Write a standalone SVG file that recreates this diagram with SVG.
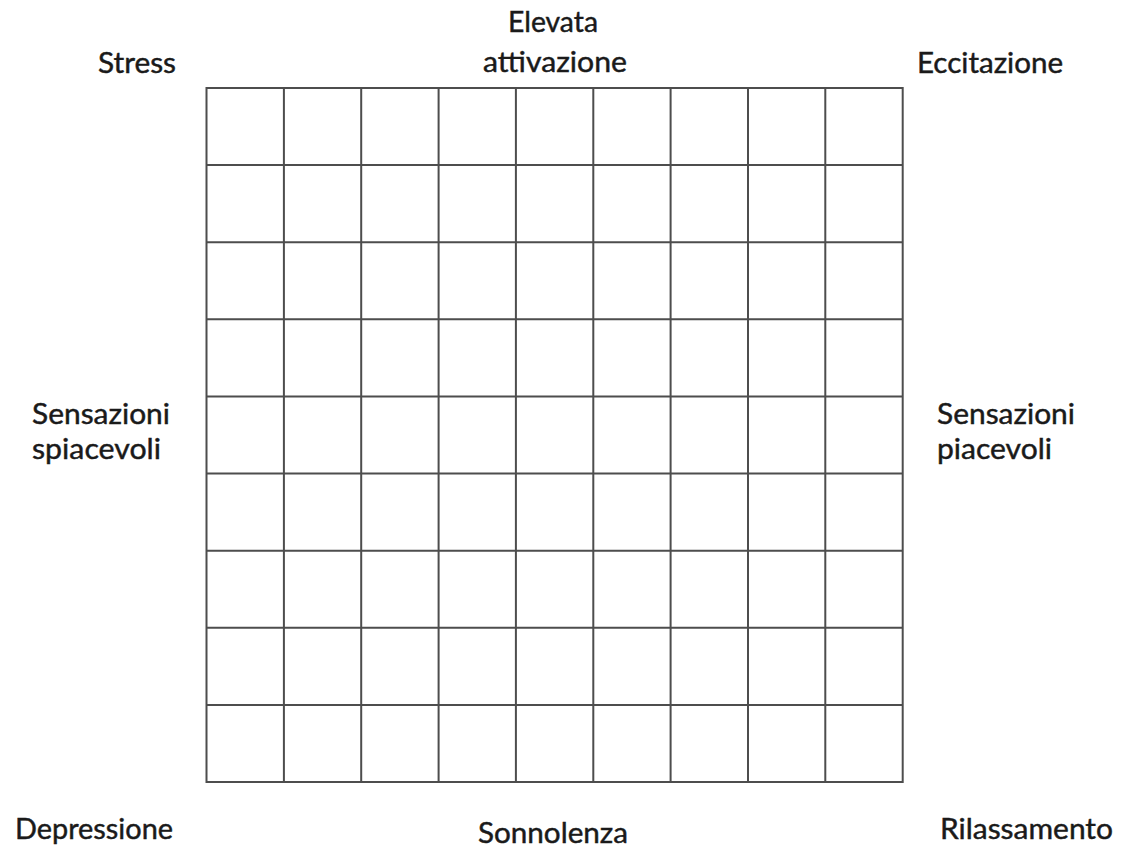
<svg xmlns="http://www.w3.org/2000/svg" width="1124" height="850" viewBox="0 0 1124 850">
<style>
.lbl{font-family:Lato,"Open Sans","Liberation Sans",sans-serif;font-size:29px;fill:#1a1a1a;stroke:#1a1a1a;stroke-width:0.45}
.grid{fill:none;stroke:#4d4d4d;stroke-width:2}
</style>
<rect width="1124" height="850" fill="#ffffff"/>
<g id="grid">
<rect class="grid" x="206.5" y="88" width="696.2" height="694"/>
<path class="grid" d="M283.9 88V782M361.2 88V782M438.6 88V782M515.9 88V782M593.3 88V782M670.6 88V782M748 88V782M825.3 88V782M206.5 165.1H902.7M206.5 242.2H902.7M206.5 319.3H902.7M206.5 396.4H902.7M206.5 473.6H902.7M206.5 550.7H902.7M206.5 627.8H902.7M206.5 704.9H902.7"/>
</g>
<g id="labels">
<g id="stress"><text class="lbl" x="98" y="73" textLength="78" lengthAdjust="spacingAndGlyphs">Stress</text></g>
<g id="elevata"><text class="lbl" x="508" y="32" textLength="90" lengthAdjust="spacingAndGlyphs">Elevata</text><text class="lbl" x="483" y="72" textLength="144" lengthAdjust="spacingAndGlyphs">attivazione</text></g>
<g id="eccitazione"><text class="lbl" x="917" y="73" textLength="146" lengthAdjust="spacingAndGlyphs">Eccitazione</text></g>
<g id="spiacevoli"><text class="lbl" x="32" y="424" textLength="138" lengthAdjust="spacingAndGlyphs">Sensazioni</text><text class="lbl" x="32" y="459" textLength="129" lengthAdjust="spacingAndGlyphs">spiacevoli</text></g>
<g id="piacevoli"><text class="lbl" x="937" y="424" textLength="138" lengthAdjust="spacingAndGlyphs">Sensazioni</text><text class="lbl" x="937" y="459" textLength="115" lengthAdjust="spacingAndGlyphs">piacevoli</text></g>
<g id="depressione"><text class="lbl" x="15" y="839" textLength="158" lengthAdjust="spacingAndGlyphs">Depressione</text></g>
<g id="sonnolenza"><text class="lbl" x="478" y="843" textLength="150" lengthAdjust="spacingAndGlyphs">Sonnolenza</text></g>
<g id="rilassamento"><text class="lbl" x="940" y="839" textLength="173" lengthAdjust="spacingAndGlyphs">Rilassamento</text></g>
</g>
</svg>
